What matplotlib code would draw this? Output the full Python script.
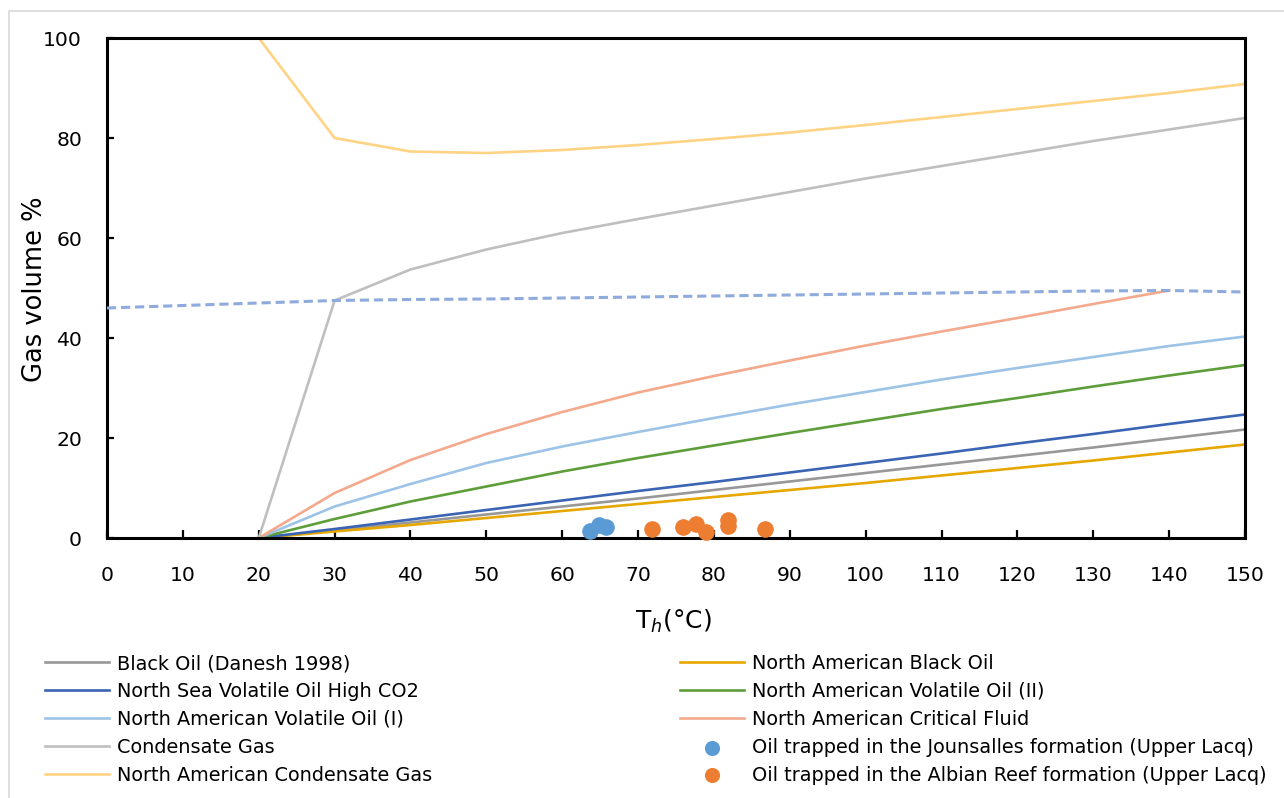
import numpy as np
import matplotlib.pyplot as plt
from matplotlib.patches import Rectangle

### Data
temp = [20, 30, 40, 50, 60, 70, 80, 90, 100, 110, 120, 130, 140, 150]
black_oil_danesh = [0, 1.5, 3.1, 4.7, 6.3, 7.9, 9.6, 11.3, 13.0, 14.7, 16.4, 18.1, 19.9, 21.7]
na_black_oil = [0, 1.3, 2.6, 4.0, 5.4, 6.8, 8.2, 9.6, 11.0, 12.5, 14.0, 15.5, 17.1, 18.7]
ns_volatile_co2 = [0, 1.8, 3.7, 5.6, 7.5, 9.4, 11.2, 13.1, 15.0, 16.9, 18.9, 20.8, 22.8, 24.7]
na_volatile_2 = [0, 3.8, 7.3, 10.3, 13.3, 16.0, 18.5, 21.0, 23.4, 25.8, 28.0, 30.3, 32.5, 34.6]
na_volatile_1 = [0, 6.3, 10.8, 15.0, 18.3, 21.2, 24.0, 26.7, 29.2, 31.7, 34.0, 36.2, 38.4, 40.3]
condensate_gas = [0, 47.5, 53.7, 57.7, 61.0, 63.8, 66.5, 69.2, 71.9, 74.4, 76.9, 79.4, 81.7, 84.0]
na_condensate_gas = [100, 80, 77.3, 77.0, 77.6, 78.6, 79.8, 81.1, 82.6, 84.2, 85.8, 87.4, 89.0, 90.8]

temp_critical = [20, 30, 40, 50, 60, 70, 80, 90, 100, 110, 120, 130, 140]
na_critical = [0, 9.0, 15.6, 20.8, 25.2, 29.1, 32.4, 35.5, 38.5, 41.3, 44.0, 46.8, 49.5]

temp_dew = [0, 10, 20, 30, 40, 50, 60, 70, 80, 90, 100, 110, 120, 130, 140, 150]
dew_line = [46.0, 46.5, 47.0, 47.5, 47.7, 47.8, 48.0, 48.2, 48.4, 48.6, 48.8, 49.0, 49.2, 49.4, 49.5, 49.2]

jounsalles_th = [63.7, 64.8, 65.8]
jounsalles_gas = [1.5, 2.6, 2.3]
albian_th = [71.9, 75.9, 77.7, 79.0, 81.9, 81.9, 86.7]
albian_gas = [1.8, 2.3, 2.9, 1.3, 3.6, 2.4, 1.9]

plt.rcParams['font.family'] = ['DejaVu Sans']
fig = plt.figure(figsize=(12.84, 7.98), dpi=100)
# light chart-area border
fig.patches.append(Rectangle((9/1284, -0.1), 1.2, 1.1 - 11/798, transform=fig.transFigure,
                             fill=False, edgecolor='#D9D9D9', lw=1.2))
ax = fig.add_axes([107/1284, 1 - 538/798, (1245 - 107)/1284, (538 - 38)/798])

lw = 1.9
ax.plot(temp_dew, dew_line, color='#8FAADC', lw=2.2, ls=(0, (3, 1.6)), zorder=3)
ax.plot(temp, black_oil_danesh, color='#989898', lw=lw, label='Black Oil (Danesh 1998)')
ax.plot(temp, na_black_oil, color='#E6A800', lw=lw, label='North American Black Oil')
ax.plot(temp, ns_volatile_co2, color='#3A64B4', lw=lw, label='North Sea Volatile Oil High CO2')
ax.plot(temp, na_volatile_2, color='#5E9E3A', lw=lw, label='North American Volatile Oil (II)')
ax.plot(temp, na_volatile_1, color='#9DC3E6', lw=lw, label='North American Volatile Oil (I)')
ax.plot(temp_critical, na_critical, color='#F4A98C', lw=lw, label='North American Critical Fluid')
ax.plot(temp, condensate_gas, color='#BFBFBF', lw=lw, label='Condensate Gas')
ax.plot(temp, na_condensate_gas, color='#FFD384', lw=lw, label='North American Condensate Gas')
ax.scatter(jounsalles_th, jounsalles_gas, s=120, color='#5B9BD5', zorder=4, clip_on=False,
           label='Oil trapped in the Jounsalles formation (Upper Lacq)')
ax.scatter(albian_th, albian_gas, s=120, color='#ED7D31', zorder=4, clip_on=False,
           label='Oil trapped in the Albian Reef formation (Upper Lacq)')

ax.set_xlim(0, 150)
ax.set_ylim(0, 100)
ax.set_xticks(np.arange(0, 151, 10))
ax.set_yticks(np.arange(0, 101, 20))
for s in ax.spines.values():
    s.set_linewidth(2.2)
ax.tick_params(axis='both', direction='in', width=1.6, labelsize=14.7)
ax.tick_params(axis='x', length=6, pad=20)
ax.tick_params(axis='y', length=5, pad=18)

# axis titles
fig.text(673/1284, 1 - 621/798, 'T$_{h}$(°C)', fontsize=18, ha='center', va='center')
fig.text(35/1284, 1 - 289/798, 'Gas volume %', fontsize=18.5, rotation=90, ha='center', va='center')

h, l = ax.get_legend_handles_labels()
d = dict(zip(l, h))
left = ['Black Oil (Danesh 1998)', 'North Sea Volatile Oil High CO2', 'North American Volatile Oil (I)',
        'Condensate Gas', 'North American Condensate Gas']
right = ['North American Black Oil', 'North American Volatile Oil (II)', 'North American Critical Fluid',
         'Oil trapped in the Jounsalles formation (Upper Lacq)',
         'Oil trapped in the Albian Reef formation (Upper Lacq)']
kw = dict(frameon=False, fontsize=13.9, handlelength=3.3, handletextpad=0.45, labelspacing=0.46,
          loc='upper left', borderaxespad=0, borderpad=0, markerscale=0.9)
leg1 = fig.legend([d[k] for k in left], left, bbox_to_anchor=(45/1284, 1 - 654/798), **kw)
leg2 = fig.legend([d[k] for k in right], right, bbox_to_anchor=(680/1284, 1 - 654/798), **kw)

fig.savefig('out.png', dpi=100)
